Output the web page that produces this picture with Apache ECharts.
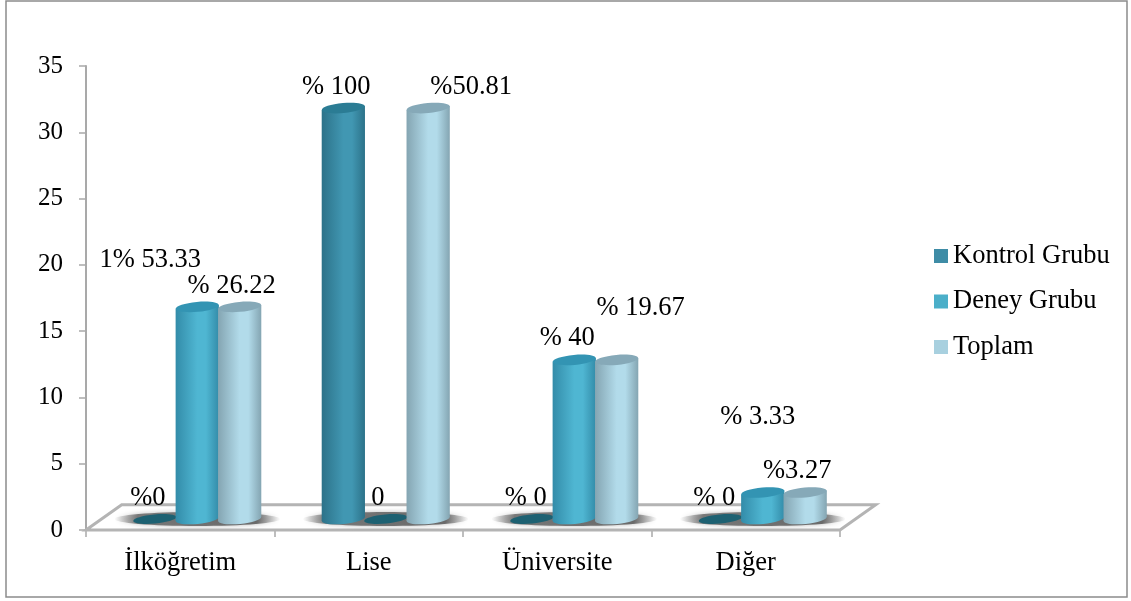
<!DOCTYPE html>
<html><head><meta charset="utf-8">
<style>html,body{margin:0;padding:0;background:#fff}#c{width:1131px;height:601px}</style>
<script src="https://cdn.jsdelivr.net/npm/echarts@6/dist/echarts.min.js"></script>
</head><body><div id="c"></div>
<script>
const categories = ['İlköğretim', 'Lise', 'Üniversite', 'Diğer'];
const seriesNames = ['Kontrol Grubu', 'Deney Grubu', 'Toplam'];
const kontrol = [0, 31, 0, 0];
const deney = [16, 0, 12, 2];
const toplam = [16, 31, 12, 2];
const kontrolLabels = ['%0', '% 100', '% 0', '% 0'];
const deneyLabels = ['1% 53.33', '0', '% 40', '% 3.33'];
const toplamLabels = ['% 26.22', '%50.81', '% 19.67', '%3.27'];

const FONT = '"Liberation Serif","Times New Roman",serif';
const FS = 26.5;
const labelShift = [
  [[-7,-21],[-7,-21],[-6,-21],[-6,-21]],
  [[-47,-47],[-8,-21],[-7,-22],[-5,-75]],
  [[-8,-21],[43,-21],[24,-52],[-8,-21]]
];
const palette = [
  {legend:'#3e8ca6', edge:'#2c7289', mid:'#4197b2', top:'#2b7c94', bottom:'#1d6172'},
  {legend:'#4bafc9', edge:'#338ca9', mid:'#4fb6d2', top:'#3394b3', bottom:'#1d6172'},
  {legend:'#a8d0df', edge:'#84a5b2', mid:'#b2dbea', top:'#86a9b8', bottom:'#1d6172'}
];
const DX = 17, DY = 11, RY = 5, TILT = 0.09;

function cylinder(idx) {
  const p = palette[idx];
  const texts = [kontrolLabels, deneyLabels, toplamLabels][idx];
  return function (params, api) {
    const i = api.value(0), v = api.value(1);
    const band = api.size([1, 0])[0];
    const step = band * 0.225, rx = step * 0.51;
    const c0 = api.coord([i, 0]), c1 = api.coord([i, v]);
    const cx = c0[0] + DX + (idx - 1) * step;
    const base = c0[1] - DY, top = c1[1] - DY;
    const children = [];
    const grad = new echarts.graphic.LinearGradient(0, 0, 1, 0, [
      {offset: 0, color: p.edge},
      {offset: 0.5, color: p.mid},
      {offset: 0.7, color: p.mid},
      {offset: 1, color: p.edge}
    ]);
    if (v > 0) {
      children.push({type: 'ellipse', shape: {cx, cy: base, rx, ry: RY}, rotation: TILT, originX: cx, originY: base, style: {fill: grad}});
      children.push({type: 'polygon', shape: {points: [
        [cx - rx, top + rx * TILT], [cx + rx, top - rx * TILT],
        [cx + rx, base - rx * TILT], [cx - rx, base + rx * TILT]
      ]}, style: {fill: grad}});
      children.push({type: 'ellipse', shape: {cx, cy: top, rx, ry: RY}, rotation: TILT, originX: cx, originY: top, style: {fill: p.top}});
    } else {
      children.push({type: 'ellipse', shape: {cx, cy: base, rx, ry: 4.5}, rotation: TILT, originX: cx, originY: base, style: {fill: p.bottom}});
    }
    const sh = labelShift[idx][i];
    children.push({type: 'text', z2: 50, style: {
      x: cx + sh[0], y: top + sh[1], text: texts[i], fill: '#000',
      font: FS + 'px ' + FONT, textAlign: 'center', textVerticalAlign: 'middle'
    }});
    return {type: 'group', children};
  };
}

function floorItem(params, api) {
  const band = api.size([1, 0])[0];
  const a = api.coord([0, 0]), b = api.coord([categories.length - 1, 0]);
  const L = a[0] - band / 2, R = b[0] + band / 2, y = a[1];
  const depthX = DX * 2.1, depthY = DY * 2.3;
  const children = [{
    type: 'polygon',
    shape: {points: [[L, y], [L + depthX, y - depthY], [R + depthX, y - depthY], [R, y]]},
    style: {fill: '#fff', stroke: '#b4b4b4', lineWidth: 3, lineJoin: 'miter'}
  }];
  const shade = new echarts.graphic.LinearGradient(0, 0, 1, 0, [
    {offset: 0, color: 'rgba(120,120,120,0)'},
    {offset: 0.14, color: 'rgba(105,105,105,0.85)'},
    {offset: 0.86, color: 'rgba(95,95,95,0.9)'},
    {offset: 1, color: 'rgba(120,120,120,0)'}
  ]);
  for (let i = 0; i < categories.length; i++) {
    const c = api.coord([i, 0])[0] + DX;
    children.push({
      type: 'ellipse', shape: {cx: c, cy: y - DY, rx: band * 0.44, ry: 7},
      style: {fill: shade, shadowBlur: 5, shadowColor: 'rgba(130,130,130,0.6)'}
    });
  }
  return {type: 'group', children};
}

const chart = echarts.init(document.getElementById('c'), null, {renderer: 'canvas'});
const axisLine = {show: true, lineStyle: {color: '#a9a9a9', width: 2}};
const axisTick = {show: true, length: 7, lineStyle: {color: '#a9a9a9', width: 1.5}};
const seriesValues = [kontrol, deney, toplam];
chart.setOption({
  animation: false,
  backgroundColor: '#fff',
  graphic: [{type: 'rect', silent: true, z: -1, shape: {x: 6, y: 1, width: 1121, height: 596},
    style: {fill: 'none', stroke: '#8c8c8c', lineWidth: 1.5}}],
  grid: {left: 86, right: 291, top: 66, bottom: 71},
  legend: {
    orient: 'vertical', left: 929, top: 237, icon: 'rect', itemWidth: 14, itemHeight: 14,
    itemGap: 17.5, data: seriesNames, itemStyle: {borderWidth: 0}, selectedMode: false,
    textStyle: {fontFamily: FONT, fontSize: FS, color: '#000', lineHeight: 28}
  },
  xAxis: {
    type: 'category', data: categories, axisLine, axisTick: {...axisTick, alignWithLabel: false},
    axisLabel: {fontFamily: FONT, fontSize: FS, color: '#000', margin: 20}
  },
  yAxis: {
    type: 'value', min: 0, max: 35, interval: 5, axisLine, axisTick, splitLine: {show: false},
    axisLabel: {fontFamily: FONT, fontSize: 25, color: '#000', margin: 23, padding: [6, 0, 0, 0]}
  },
  series: [
    {type: 'custom', name: 'zemin', clip: false, silent: true, z: 1, renderItem: floorItem, data: [[0, 0]], encode: {x: 0, y: 1}}
  ].concat(seriesNames.map((n, idx) => ({
    type: 'custom', name: n, clip: false, silent: true, z: 3 + idx,
    renderItem: cylinder(idx), encode: {x: 0, y: 1},
    itemStyle: {color: palette[idx].legend},
    data: categories.map((c, i) => [i, seriesValues[idx][i]])
  })))
});
</script></body></html>
